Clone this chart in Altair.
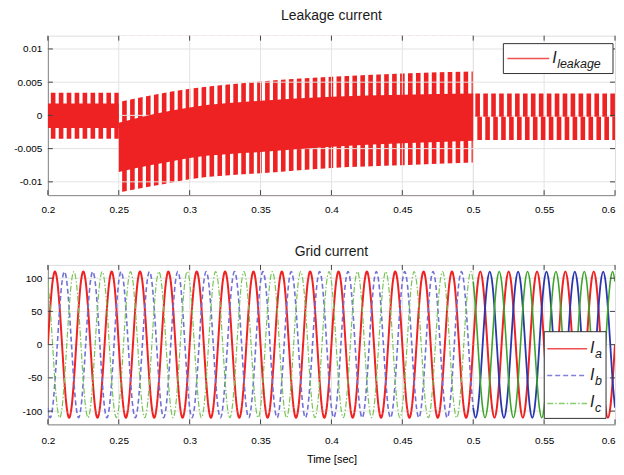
import altair as alt
import numpy as np
import pandas as pd

# ------------------------------------------------------------------
# Values
# ------------------------------------------------------------------
x_ticks = [0.2, 0.25, 0.3, 0.35, 0.4, 0.45, 0.5, 0.55, 0.6]
leak_y_ticks = [-0.01, -0.005, 0, 0.005, 0.01]
grid_y_ticks = [-100, -50, 0, 50, 100]

# Leakage current: switching bursts
leak_period = 0.0056          # spacing of the bursts [s]
leak_duty = 0.58              # fraction of the period that a burst lasts
# section 1 (0.20 - 0.25): constant levels
s1_range = [0.2, 0.25]
s1_bar = [-0.0035, 0.0034]
s1_band = [-0.0019, 0.0018]
s1_first = 0.2021
# section 2 (0.25 - 0.50): rising envelope
s2_range = [0.25, 0.5]
s2_t = [0.25, 0.275, 0.3, 0.35, 0.4, 0.45, 0.5]
s2_u1 = [0.0020, 0.0031, 0.0040, 0.0051, 0.0058, 0.0063, 0.0066]
s2_u2 = [-0.0011, 0.0002, 0.0012, 0.0022, 0.0028, 0.0031, 0.0033]
s2_l2 = [-0.0085, -0.0074, -0.0064, -0.0055, -0.0047, -0.0042, -0.0038]
s2_l1 = [-0.0116, -0.0106, -0.0096, -0.0087, -0.0079, -0.0075, -0.0071]
s2_first = 0.2524
# section 3 (0.50 - 0.60): constant levels
s3_range = [0.5, 0.6]
s3_upper = [-0.0002, 0.0033]
s3_lower = [-0.0037, -0.0002]
s3_first = 0.5015
s3_lower_shift = 0.0014

# Grid current: one 50 Hz cycle, sampled every 30 degrees
grid_period = 0.02
grid_cycle = [0, 55, 95, 110, 95, 55, 0, -55, -95, -110, -95, -55]
phase_names = ["Ia", "Ib", "Ic"]
phase_lag = [0, 4, 8]          # lag in samples (120 degrees = 4 samples)
grid_cycles = 20
grid_change = 0.5

# ------------------------------------------------------------------
# Styling
# ------------------------------------------------------------------
FONT = "Liberation Sans"
RED = "#ee2222"
GRIDC = "#e3e3e3"
TICKC = "#444444"
PLOT_W = 569
TOP_H = 160
BOT_H = 160
TICK_LEN = 5
Y_EXTENT = 39
leak_dom = [-0.012, 0.012]
grid_dom = [-120, 120]
x_dom = [0.2, 0.6]

# ------------------------------------------------------------------
# Tables
# ------------------------------------------------------------------
def bursts(first, t_end, lo, hi, grp):
    rows = []
    for t0 in np.arange(first, t_end, leak_period):
        t1 = min(t0 + leak_duty * leak_period, t_end)
        if t1 > t0:
            rows.append({"t0": t0, "t1": t1, "y0": lo, "y1": hi, "grp": grp})
    return rows

rows = []
rows += bursts(s1_first, s1_range[1], s1_bar[0], s1_bar[1], "s1")
rows += bursts(s3_first, s3_range[1], s3_upper[0], s3_upper[1], "s3u")
rows += bursts(s3_first + s3_lower_shift, s3_range[1], s3_lower[0], s3_lower[1], "s3l")
fixed_bars = pd.DataFrame(rows)
s2_bars = pd.DataFrame(bursts(s2_first, s2_range[1], leak_dom[0], leak_dom[1], "s2"))
s1_band_df = pd.DataFrame({"t0": [s1_range[0]], "t1": [s1_range[1]],
                           "y0": [s1_band[0]], "y1": [s1_band[1]]})
s2_df = pd.DataFrame({"t": s2_t, "u1": s2_u1, "u2": s2_u2, "l2": s2_l2, "l1": s2_l1,
                      "top": leak_dom[1], "bot": leak_dom[0]})

n = len(grid_cycle)
g_rows = []
for name, lag in zip(phase_names, phase_lag):
    for i in range(grid_cycles * n + 1):
        t = x_dom[0] + i * grid_period / n
        v = grid_cycle[(i - lag) % n]
        if t <= grid_change + 1e-9:
            g_rows.append({"t": t, "v": v, "phase": name, "seg": "pre"})
        if t >= grid_change - 1e-9:
            g_rows.append({"t": t, "v": v, "phase": name, "seg": "post"})
grid_df = pd.DataFrame(g_rows)
grid_pre = grid_df[grid_df.seg == "pre"]
grid_post = grid_df[grid_df.seg == "post"]

xt_all = pd.DataFrame({"x": x_ticks})
xt_df = pd.DataFrame({"x": x_ticks[1:-1]})
ly_df = pd.DataFrame({"y": leak_y_ticks})
gy_df = pd.DataFrame({"y": grid_y_ticks})

# ------------------------------------------------------------------
# Encodings
# ------------------------------------------------------------------
minus_fix = "replace(datum.label, '\u2212', '-')"
common = dict(labelExpr=minus_fix, grid=False, ticks=False, labelFlush=False,
              labelOverlap=False)
last_right = {"condition": {"test": f"datum.value >= {x_dom[1] - 1e-6}", "value": "right"},
              "value": "center"}
x_axis = alt.Axis(values=x_ticks, format="~g", title=None, labelPadding=9,
                  labelAlign=last_right, **common)
x_axis_bottom = alt.Axis(values=x_ticks, format="~g", title="Time [sec]", labelPadding=11,
                         labelAlign=last_right, titlePadding=8, titleFontWeight="normal", **common)
leak_axis = alt.Axis(values=leak_y_ticks, format="~g", title=None, labelPadding=6,
                     minExtent=Y_EXTENT, maxExtent=Y_EXTENT, **common)
grid_axis = alt.Axis(values=grid_y_ticks, format="d", title=None, labelPadding=6,
                     minExtent=Y_EXTENT, maxExtent=Y_EXTENT, **common)
xs = alt.Scale(domain=x_dom, nice=False, zero=False)
ys_leak = alt.Scale(domain=leak_dom, nice=False, zero=False)
ys_grid = alt.Scale(domain=grid_dom, nice=False, zero=False)


def X(f, ax):
    return alt.X(f, type="quantitative", scale=xs, axis=ax)


def YL(f):
    return alt.Y(f, type="quantitative", scale=ys_leak, axis=leak_axis)


def YG(f):
    return alt.Y(f, type="quantitative", scale=ys_grid, axis=grid_axis)


def frame_ticks(xenc, yenc, ydf, height):
    """Inward tick marks on all four sides, placed by the scales."""
    return [
        alt.Chart(ydf).mark_rule(color=TICKC, strokeWidth=1).encode(
            y=yenc("y"), x=alt.value(0), x2=alt.value(TICK_LEN)),
        alt.Chart(ydf).mark_rule(color=TICKC, strokeWidth=1).encode(
            y=yenc("y"), x=alt.value(PLOT_W - TICK_LEN), x2=alt.value(PLOT_W)),
        alt.Chart(xt_all).mark_rule(color=TICKC, strokeWidth=1).encode(
            x=xenc("x"), y=alt.value(height - TICK_LEN), y2=alt.value(height)),
        alt.Chart(xt_all).mark_rule(color=TICKC, strokeWidth=1).encode(
            x=xenc("x"), y=alt.value(0), y2=alt.value(TICK_LEN)),
    ]


def legend_layers(box, entries):
    """box = (x0, x1, y0, y1) in panel pixels."""
    one = pd.DataFrame({"k": [0]})
    layers = [alt.Chart(one).mark_rect(fill="white", stroke="#333333", strokeWidth=1).encode(
        x=alt.value(box[0]), x2=alt.value(box[1]), y=alt.value(box[2]), y2=alt.value(box[3]))]
    for sub, color, dash, yy, lx0, lx1 in entries:
        layers.append(alt.Chart(one).mark_rule(color=color, strokeWidth=1.5, strokeDash=dash).encode(
            x=alt.value(lx0), x2=alt.value(lx1), y=alt.value(yy)))
        layers.append(alt.Chart(one).mark_text(text="I", font=FONT, fontSize=16, fontStyle="italic",
                                               align="left", baseline="alphabetic", color="#1a1a1a").encode(
            x=alt.value(lx1 + 3), y=alt.value(yy + 4)))
        layers.append(alt.Chart(one).mark_text(text=sub, font=FONT, fontSize=12.5, fontStyle="italic",
                                               align="left", baseline="alphabetic", color="#1a1a1a").encode(
            x=alt.value(lx1 + 8), y=alt.value(yy + 9)))
    return layers

# ------------------------------------------------------------------
# Top panel: leakage current
# ------------------------------------------------------------------
XT = lambda f: X(f, x_axis)
top_layers = [
    alt.Chart(s2_bars).mark_rect(color=RED, clip=True).encode(
        x=XT("t0"), x2="t1", y=YL("y0"), y2="y1"),
    alt.Chart(s2_df).mark_area(color="white", interpolate="monotone", clip=True).encode(
        x=XT("t"), y=YL("u1"), y2="top"),
    alt.Chart(s2_df).mark_area(color="white", interpolate="monotone", clip=True).encode(
        x=XT("t"), y=YL("bot"), y2="l1"),
    alt.Chart(xt_df).mark_rule(color=GRIDC, strokeWidth=1).encode(x=XT("x")),
    alt.Chart(ly_df).mark_rule(color=GRIDC, strokeWidth=1).encode(y=YL("y")),
    alt.Chart(fixed_bars).mark_rect(color=RED, clip=True).encode(
        x=XT("t0"), x2="t1", y=YL("y0"), y2="y1"),
    alt.Chart(s1_band_df).mark_rect(color=RED, clip=True).encode(
        x=XT("t0"), x2="t1", y=YL("y0"), y2="y1"),
    alt.Chart(s2_df).mark_area(color=RED, interpolate="monotone", clip=True).encode(
        x=XT("t"), y=YL("l2"), y2="u2"),
]
top_layers += frame_ticks(XT, YL, ly_df, TOP_H)
top_layers += legend_layers((457, 567, 8, 38),
                            [("leakage", "#f05050", [1, 0], 23, 461, 503)])

top = alt.layer(*top_layers).properties(
    width=PLOT_W, height=TOP_H,
    title=alt.TitleParams("Leakage current", font=FONT, fontSize=14, fontWeight="normal",
                          color="#1a1a1a", offset=12))

# ------------------------------------------------------------------
# Bottom panel: grid current
# ------------------------------------------------------------------
pre_colors = [RED, "#7070d6", "#76c456"]
post_colors = [RED, "#2a36b0", "#3da42a"]
dashes = [[1, 0], [5, 3], [6, 2, 1.5, 2]]
XB = lambda f: X(f, x_axis_bottom)

bot_layers = [
    alt.Chart(xt_df).mark_rule(color=GRIDC, strokeWidth=1).encode(x=XB("x")),
    alt.Chart(gy_df).mark_rule(color=GRIDC, strokeWidth=1).encode(y=YG("y")),
    alt.Chart(grid_pre).mark_line(interpolate="monotone", clip=True).encode(
        x=XB("t"), y=YG("v"),
        color=alt.Color("phase:N", scale=alt.Scale(domain=phase_names, range=pre_colors), legend=None),
        strokeDash=alt.StrokeDash("phase:N", scale=alt.Scale(domain=phase_names, range=dashes), legend=None),
        strokeWidth=alt.StrokeWidth("phase:N", scale=alt.Scale(domain=phase_names, range=[2, 1.2, 1.2]),
                                    legend=None)),
    alt.Chart(grid_post).mark_line(interpolate="monotone", clip=True).encode(
        x=XB("t"), y=YG("v"),
        color=alt.Color("phase:N", scale=alt.Scale(domain=phase_names, range=post_colors), legend=None),
        strokeWidth=alt.StrokeWidth("phase:N", scale=alt.Scale(domain=phase_names, range=[2, 1.6, 1.6]),
                                    legend=None)),
]
bot_layers += frame_ticks(XB, YG, gy_df, BOT_H)
bot_layers += legend_layers((498, 560, 67, 154),
                            [("a", "#f05050", [1, 0], 84, 501, 541),
                             ("b", "#8080dd", [5, 3], 111, 501, 541),
                             ("c", "#88cc70", [6, 2, 1.5, 2], 139, 501, 541)])

bottom = alt.layer(*bot_layers).resolve_scale(color="independent", strokeWidth="independent").properties(
    width=PLOT_W, height=BOT_H,
    title=alt.TitleParams("Grid current", font=FONT, fontSize=14, fontWeight="normal",
                          color="#1a1a1a", offset=5))

chart = alt.vconcat(top, bottom, spacing=30).properties(
    padding={"left": 0, "top": 0, "right": 0, "bottom": 0}
).configure_view(
    stroke="#3a3a3a", strokeWidth=1
).configure_axis(
    domain=False, labelFont=FONT, labelFontSize=11, labelColor="#333333",
    titleFont=FONT, titleFontSize=11, titleColor="#333333", titleFontWeight="normal"
).configure(background="white")

chart.save("out.html", embed_options={"renderer": "svg", "actions": False})
